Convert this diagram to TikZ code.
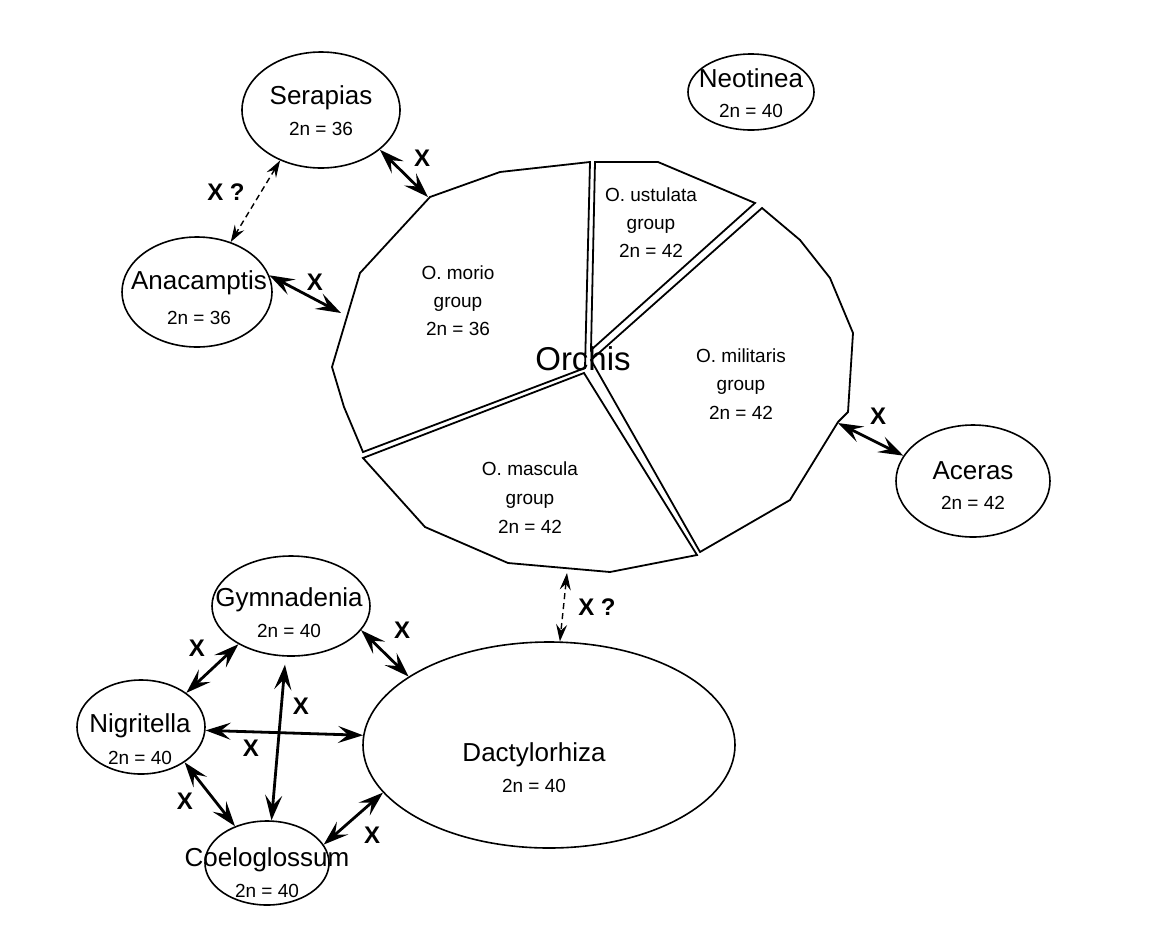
\documentclass[tikz,border=0pt]{standalone}
\usepackage{fontspec}
\setmainfont{Liberation Sans}
\usetikzlibrary{arrows.meta,shapes.geometric}
\begin{document}
\begin{tikzpicture}[x=1pt,y=-1pt,
  oval/.style={draw, ellipse, line width=1.6pt, inner sep=0pt},
  nm/.style={font=\fontsize{26}{30}\selectfont, inner sep=0pt, anchor=base},
  cn/.style={font=\fontsize{19}{22}\selectfont, inner sep=0pt, anchor=base},
  big/.style={font=\fontsize{33}{36}\selectfont, inner sep=0pt, anchor=base},
  xl/.style={font=\bfseries\fontsize{24}{26}\selectfont, inner sep=0pt},
  sector/.style={draw, line width=1.8pt, line join=miter},
  cross/.style={{Stealth[length=25pt,width=17pt,inset=10pt]}-{Stealth[length=25pt,width=17pt,inset=10pt]}, line width=2.8pt},
  maybe/.style={{Stealth[length=17pt,width=11pt,inset=6pt]}-{Stealth[length=17pt,width=11pt,inset=6pt]}, line width=1.4pt, dash pattern=on 6pt off 4pt}
]
\useasboundingbox (0,0) rectangle (1151,946);
\fill[white] (0,0) rectangle (1151,946);

% Orchis pie (four sectors)
\draw[sector] (590,162) -- (500,172) -- (430,197) -- (360,273) -- (332,367) -- (344,407) -- (363,452) -- (585,368) -- cycle;
\draw[sector] (595,162) -- (658,162) -- (755,203) -- (591,350) -- cycle;
\draw[sector] (762,208) -- (800,240) -- (830,278) -- (853,333) -- (848,412) -- (838,422) -- (790,500) -- (700,552) -- (591,360) -- cycle;
\draw[sector] (697,555) -- (610,572) -- (508,563) -- (425,527) -- (363,458) -- (584,373) -- cycle;

\node[cn] (morioA) at (458,279) {O. morio};
\node[cn] (morioB) at (458,307) {group};
\node[cn] (morioC) at (458,335) {2n = 36};
\node[cn] (ustA) at (651,201) {O. ustulata};
\node[cn] (ustB) at (651,229) {group};
\node[cn] (ustC) at (651,257) {2n = 42};
\node[cn] (milA) at (741,362) {O. militaris};
\node[cn] (milB) at (741,390) {group};
\node[cn] (milC) at (741,419) {2n = 42};
\node[cn] (masA) at (530,475) {O. mascula};
\node[cn] (masB) at (530,504) {group};
\node[cn] (masC) at (530,533) {2n = 42};
\node[big] (orchis) at (583,370) {Orchis};

\coordinate (or1) at (428,197);
\coordinate (or2) at (341,313);
\coordinate (or3) at (838,423);
\coordinate (or4) at (567,573);

% ellipses
\node[oval, minimum width=158pt, minimum height=116pt] (serapias) at (321,110) {};
\node[oval, minimum width=150pt, minimum height=110pt] (anacamptis) at (197,292) {};
\node[oval, minimum width=126pt, minimum height=76pt] (neotinea) at (751,92) {};
\node[oval, minimum width=154pt, minimum height=112pt] (aceras) at (973,481) {};
\node[oval, minimum width=158pt, minimum height=100pt] (gymnadenia) at (291,606) {};
\node[oval, minimum width=128pt, minimum height=94pt] (nigritella) at (141,727) {};
\node[oval, minimum width=124pt, minimum height=84pt] (coeloglossum) at (267,863) {};
\node[oval, minimum width=372pt, minimum height=206pt] (dactylorhiza) at (549,745) {};

\node[nm] (serapiasA) at (321,104) {Serapias};
\node[cn] (serapiasB) at (321,135) {2n = 36};
\node[nm] (anacamptisA) at (199,289) {Anacamptis};
\node[cn] (anacamptisB) at (199,324) {2n = 36};
\node[nm] (neotineaA) at (751,87) {Neotinea};
\node[cn] (neotineaB) at (751,117) {2n = 40};
\node[nm] (acerasA) at (973,479) {Aceras};
\node[cn] (acerasB) at (973,509) {2n = 42};
\node[nm] (gymnadeniaA) at (289,606) {Gymnadenia};
\node[cn] (gymnadeniaB) at (289,637) {2n = 40};
\node[nm] (nigritellaA) at (140,732) {Nigritella};
\node[cn] (nigritellaB) at (140,764) {2n = 40};
\node[nm] (coeloglossumA) at (267,866) {Coeloglossum};
\node[cn] (coeloglossumB) at (267,897) {2n = 40};
\node[nm] (dactylorhizaA) at (534,761) {Dactylorhiza};
\node[cn] (dactylorhizaB) at (534,792) {2n = 40};

% connectors
\draw[cross] (serapias.-34) -- (or1);
\draw[maybe] (serapias.-129) -- (anacamptis.56);
\draw[cross] (anacamptis.13) -- (or2);
\draw[cross] (or3) -- (aceras.160);
\draw[maybe] (or4) -- (dactylorhiza.84);
\draw[cross] (gymnadenia.-19) -- (dactylorhiza.154);
\draw[cross] (gymnadenia.-144) -- (nigritella.37);
\draw[cross, shorten <=8pt] (gymnadenia.-96) -- (coeloglossum.84);
\draw[cross] (nigritella.-3) -- (dactylorhiza.177.5);
\draw[cross] (nigritella.-39) -- (coeloglossum.131);
\draw[cross] (coeloglossum.18) -- (dactylorhiza.-164);

% cross labels
\node[xl] (x1) at (422,158) {X};
\node[xl] (x2) at (226,192) {X ?};
\node[xl] (x3) at (315,282) {X};
\node[xl] (x4) at (878,416) {X};
\node[xl] (x5) at (597,607) {X ?};
\node[xl] (x6) at (402,630) {X};
\node[xl] (x7) at (197,648) {X};
\node[xl] (x8) at (301,706) {X};
\node[xl] (x9) at (251,748) {X};
\node[xl] (x10) at (185,801) {X};
\node[xl] (x11) at (372,835) {X};
\end{tikzpicture}
\end{document}
